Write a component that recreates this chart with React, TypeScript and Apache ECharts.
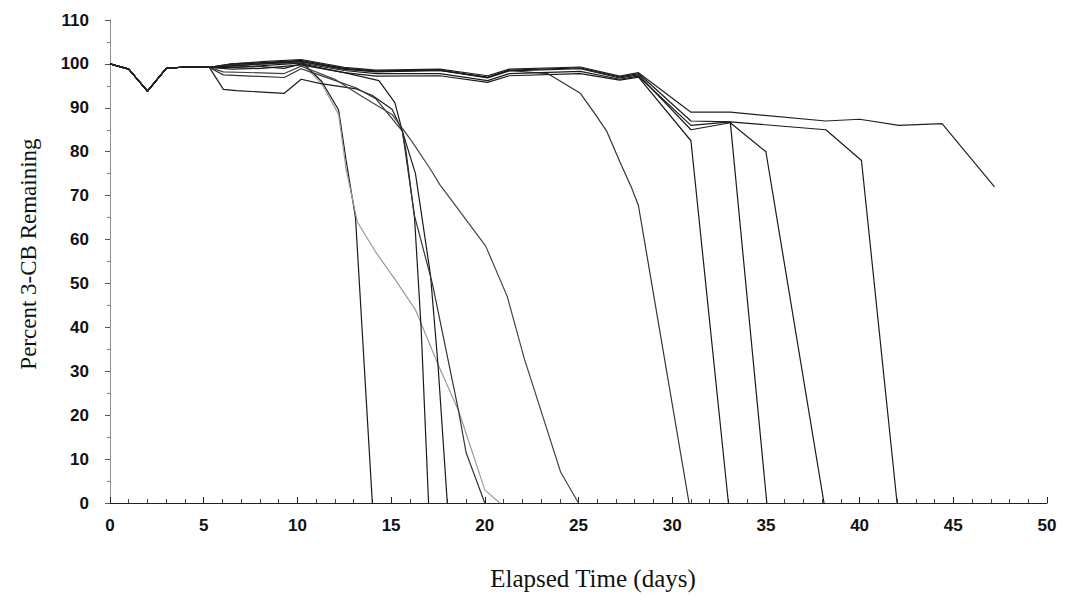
import React, { useEffect, useRef } from "react";
import * as echarts from "echarts";

// [elapsed day, percent 3-CB remaining]
const commonStart: number[][] = [[0, 100], [1, 98.8], [2, 93.8], [3, 99], [4, 99.3], [5.3, 99.2]];

const s14 = [[6.5, 99.8], [8.1, 100.2], [10.2, 100.6], [11.3, 96], [12.2, 89.5], [12.6, 78], [13.1, 65], [14, 0]];
const s21 = [[6.5, 99.6], [8.1, 100], [10.2, 100.2], [11.3, 95.5], [12.2, 88.5], [12.6, 76], [13.2, 64], [14.2, 57], [15.2, 51], [16.3, 44], [17.5, 31.6], [18.6, 21], [20, 3], [20.8, 0]];
const s17 = [[6.5, 99.2], [8.1, 99.4], [9.3, 99], [10.2, 100], [12.5, 98], [14.35, 96.2], [15.2, 91.2], [15.6, 84.7], [15.8, 80], [16.25, 65], [16.6, 40], [17, 0]];
const s18 = [[6.05, 94.2], [6.75, 93.9], [9.3, 93.3], [10.2, 96.5], [11.25, 95.5], [13.15, 94.3], [14, 92.8], [15.05, 89.7], [15.6, 84.7], [16.3, 75], [17.1, 52], [17.5, 31.6], [18, 0]];
const s20 = [[6.05, 97.5], [9.3, 96.9], [10.2, 98.9], [11.5, 97], [13.15, 94.5], [14.2, 92], [15.6, 84.7], [16.25, 65.4], [17.2, 50], [18.6, 21], [19, 11.5], [20, 0]];
const s25 = [[6.05, 98.2], [9.3, 97.8], [10.2, 99.5], [12, 96.5], [13.3, 93], [15.05, 88.5], [16.1, 82.4], [17.1, 76], [17.6, 72.5], [20.05, 58.5], [21.2, 47], [22.1, 33], [24.05, 7], [25, 0]];
const s31 = [[6.5, 99.5], [8.1, 100], [10.2, 100.5], [12.5, 98.8], [14.2, 98.3], [17.6, 98.5], [20.15, 96.9], [21.3, 98.5], [23.35, 97.8], [25.1, 93.3], [25.9, 88.5], [26.5, 84.7], [27.2, 77.8], [27.85, 71.6], [28.2, 67.7], [30.9, 0]];
const s33 = [[6.5, 98.8], [8.1, 99], [10.2, 99.8], [12.5, 98], [14.2, 97.2], [17.6, 97.3], [20.15, 95.8], [21.3, 97.3], [25.1, 97.8], [27.2, 96.3], [28.2, 97], [31, 82.5], [33, 0]];
const s35 = [[6.5, 99.2], [8.1, 99.6], [10.2, 100.2], [12.5, 98.5], [14.2, 97.8], [17.6, 97.8], [20.15, 96.2], [21.3, 97.8], [25.1, 98.3], [27.2, 96.5], [28.2, 97.2], [31, 86], [33.1, 86.8], [35.05, 0]];
const s38 = [[6.5, 99.6], [8.1, 100], [10.2, 100.5], [12.5, 98.8], [14.2, 98.2], [17.6, 98.5], [20.15, 96.8], [21.3, 98.4], [25.1, 98.9], [27.2, 96.8], [28.2, 97.5], [31, 85], [33.1, 86.6], [35, 80], [38.1, 0]];
const s42 = [[6.5, 100], [8.1, 100.3], [10.2, 100.8], [12.5, 99], [14.2, 98.4], [17.6, 98.6], [20.15, 97], [21.3, 98.6], [25.1, 99.1], [27.2, 97], [28.2, 97.8], [31, 87], [33.1, 86.8], [38.2, 85], [40.1, 78], [42, 0]];
const s47 = [[6.5, 100], [8.1, 100.5], [10.2, 101], [12.5, 99.2], [14.2, 98.6], [17.6, 98.8], [20.15, 97.3], [21.3, 98.8], [25.1, 99.3], [27.2, 97.2], [28.2, 98], [31, 89], [33.1, 89], [38.2, 87], [40, 87.4], [42.1, 86], [44.4, 86.4], [47.2, 72]];

const seriesList: { name: string; tail: number[][]; color: string }[] = [
  { name: "Run 1", tail: s14, color: "#1a1a1a" },
  { name: "Run 2", tail: s21, color: "#9a9a9a" },
  { name: "Run 3", tail: s17, color: "#1a1a1a" },
  { name: "Run 4", tail: s18, color: "#1a1a1a" },
  { name: "Run 5", tail: s20, color: "#333333" },
  { name: "Run 6", tail: s25, color: "#444444" },
  { name: "Run 7", tail: s31, color: "#333333" },
  { name: "Run 8", tail: s33, color: "#1a1a1a" },
  { name: "Run 9", tail: s35, color: "#1a1a1a" },
  { name: "Run 10", tail: s38, color: "#1a1a1a" },
  { name: "Run 11", tail: s42, color: "#1a1a1a" },
  { name: "Run 12", tail: s47, color: "#222222" },
];

const xTitle = "Elapsed Time (days)";
const yTitle = "Percent 3-CB Remaining";

export default function App() {
  const ref = useRef<HTMLDivElement>(null);
  useEffect(() => {
    if (!ref.current) return;
    const chart = echarts.init(ref.current, null, { renderer: "svg" });
    const labelFont = {
      fontFamily: "'Liberation Sans', Arial, sans-serif",
      fontSize: 17,
      fontWeight: "bold" as const,
      color: "#111",
    };
    chart.setOption({
      animation: false,
      backgroundColor: "#ffffff",
      grid: { left: 110, right: 45, top: 20, bottom: 100 },
      xAxis: {
        type: "value",
        min: 0,
        max: 50,
        interval: 5,
        axisLine: { show: true, onZero: false, lineStyle: { color: "#222", width: 1 } },
        axisTick: { show: true, inside: true, length: 6, lineStyle: { color: "#222" } },
        minorTick: { show: true, splitNumber: 5, length: 4, lineStyle: { color: "#444" } },
        splitLine: { show: false },
        axisLabel: { ...labelFont, margin: 14 },
      },
      yAxis: {
        type: "value",
        min: 0,
        max: 110,
        interval: 10,
        axisLine: { show: true, lineStyle: { color: "#777", width: 1, type: "dotted" } },
        axisTick: { show: true, length: 5, lineStyle: { color: "#555" } },
        minorTick: { show: true, splitNumber: 2, length: 3, lineStyle: { color: "#777" } },
        splitLine: { show: false },
        axisLabel: { ...labelFont, margin: 21 },
      },
      graphic: [
        {
          type: "text",
          x: 28,
          y: 254,
          rotation: Math.PI / 2,
          style: {
            text: yTitle,
            font: "23px 'Liberation Serif', 'Times New Roman', serif",
            fill: "#111",
            textAlign: "center",
            textVerticalAlign: "middle",
            verticalAlign: "middle",
          },
        },
        {
          type: "text",
          x: 593,
          y: 578,
          style: {
            text: xTitle,
            font: "25px 'Liberation Serif', 'Times New Roman', serif",
            fill: "#111",
            textAlign: "center",
            textVerticalAlign: "middle",
            verticalAlign: "middle",
          },
        },
      ],
      series: seriesList.map((s) => ({
        name: s.name,
        type: "line",
        data: [...commonStart, ...s.tail],
        showSymbol: false,
        symbol: "none",
        lineStyle: { color: s.color, width: 1.2 },
        emphasis: { disabled: true },
      })),
    });
    return () => chart.dispose();
  }, []);
  return <div ref={ref} style={{ width: 1092, height: 603, margin: -8 }} />;
}
